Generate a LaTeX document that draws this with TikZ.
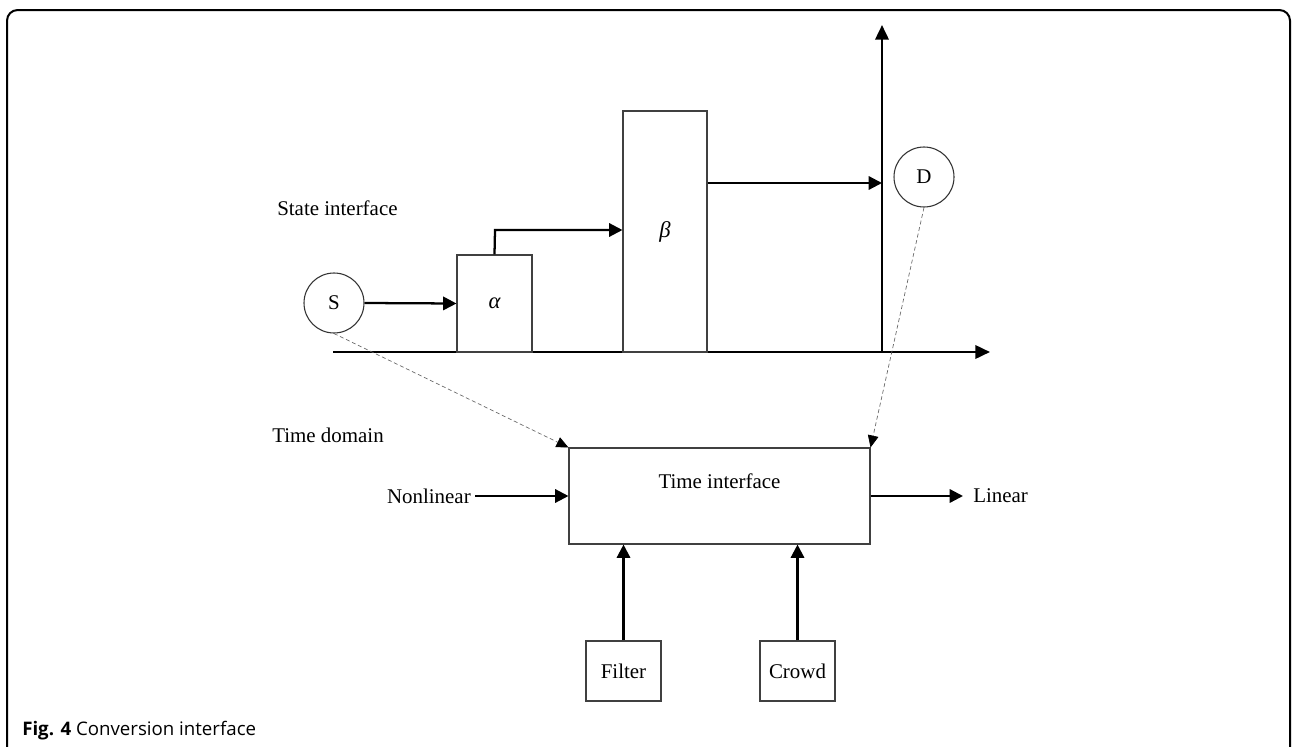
\documentclass[tikz,border=0pt]{standalone}
\usepackage{fontspec}
\setmainfont{Liberation Serif}
\newfontfamily\capfont{Open Sans}
\usetikzlibrary{arrows.meta}
\begin{document}
\begin{tikzpicture}[x=0.75pt,y=-0.75pt,
  box/.style={draw=black!75,line width=0.8pt,inner sep=0pt},
  circ/.style={draw=black!80,line width=0.8pt,circle,minimum size=45pt,inner sep=0pt,font=\fontsize{15.7}{18}\selectfont},
  lab/.style={font=\fontsize{15.7}{18}\selectfont,inner sep=0pt},
  greek/.style={font=\fontsize{17}{20}\selectfont\itshape,inner sep=0pt},
  arr/.style={line width=1.7pt,-{Triangle[length=10pt,width=10pt]}},
  dashline/.style={draw=black!60,line width=0.5pt,dash pattern=on 3pt off 2pt,-{Triangle[length=9pt,width=8pt,color=black]}}
]
\useasboundingbox (0,0) rectangle (1292,746);
\fill[white] (0,0) rectangle (1292,746);
% frame
\draw[line width=1.5pt,rounded corners=8pt] (7,800) -- (7,10) -- (1290,10) -- (1290,800);
% axes
\coordinate (o) at (333,352);
\coordinate (xt) at (990,352);
\coordinate (vb) at (882,352);
\coordinate (vt) at (882,25);
\draw[line width=1.9pt,-{Triangle[length=11pt,width=10pt]}] (o) -- (xt);
\draw[line width=1.9pt,-{Triangle[length=11pt,width=10pt]}] (vb) -- (vt);
% nodes
\node[circ] (S) at (334,303) {S};
\node[circ] (D) at (924,177) {D};
\node[box,minimum width=56.25pt,minimum height=72.75pt] (A) at (494.5,303.5) {};
\node[greek] at (A.center) {α};
\node[box,minimum width=63pt,minimum height=180.75pt] (B) at (665,231.5) {};
\node[greek] at (B.center) {β};
\node[box,minimum width=225.75pt,minimum height=72pt] (TI) at (719.5,496) {};
\node[lab] (TIt) at (719.5,481) {Time interface};
\node[box,minimum width=56.25pt,minimum height=45pt,lab] (F) at (623.5,671) {Filter};
\node[box,minimum width=56.25pt,minimum height=45pt,lab] (C) at (797.5,671) {Crowd};
\node[lab,anchor=east] (NL) at (471,496) {Nonlinear};
\node[lab,anchor=west] (L) at (973,496) {Linear};
\node[lab,anchor=west] (SI) at (277,208) {State interface};
\node[lab,anchor=west] (TD) at (272,435) {Time domain};
\node[anchor=west,inner sep=0pt,font=\capfont\fontsize{14}{16}\selectfont] (cap) at (22,731) {\textbf{Fig. 4} Conversion interface};
% connectors
\draw[arr] (S.east) -- (A.west);
\draw[arr] (A.north) -- (495,230) -- (B.west |- 0,230);
\draw[arr] (B.east |- 0,183) -- (vb |- 0,183);
\draw[arr] (NL.east) ++(4,0) -- (TI.west);
\draw[arr] (TI.east) -- (963,496);
\draw[arr] (F.north) -- (F.north |- TI.south);
\draw[arr] (C.north) -- (C.north |- TI.south);
\draw[dashline] (S.south) -- (TI.north west);
\draw[dashline] (D.south) -- (TI.north east);
\end{tikzpicture}
\end{document}
